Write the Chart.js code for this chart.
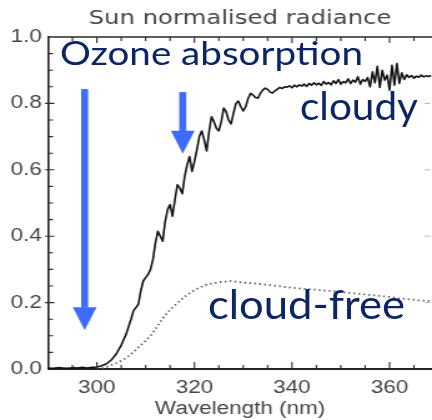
<!DOCTYPE html>
<html>
<head>
<meta charset="utf-8">
<title>Sun normalised radiance</title>
<script src="https://cdn.jsdelivr.net/npm/chart.js@4/dist/chart.umd.min.js"></script>
<style>
  html, body { margin: 0; padding: 0; background: #fff; overflow: hidden; }
  #wrap { position: relative; width: 432px; height: 420px; }
  /* the plot is laid out narrow and widened to the page width */
  #stretch { position: absolute; left: 0; top: 0; width: 346px; height: 420px;
             transform: scaleX(1.2486); transform-origin: 0 0; }
  #stretch canvas { display: block; }
  #notes { position: absolute; left: 0; top: 0; pointer-events: none; }
</style>
</head>
<body>
<div id="wrap">
  <div id="stretch"><canvas id="chart" width="346" height="420"></canvas></div>
  <svg id="notes" width="432" height="420" viewBox="0 0 432 420" xmlns="http://www.w3.org/2000/svg">
    <g font-family="Lato, 'Open Sans', sans-serif" fill="#0b2565">
      <text x="60" y="65" font-size="32" textLength="303" lengthAdjust="spacingAndGlyphs">Ozone absorption</text>
      <text x="300" y="120" font-size="38" textLength="118" lengthAdjust="spacingAndGlyphs">cloudy</text>
      <text x="208" y="319" font-size="40" textLength="197" lengthAdjust="spacingAndGlyphs">cloud-free</text>
    </g>
  </svg>
</div>
<script>
// Chart text
const titleText = 'Sun normalised radiance';
const xTitle = 'Wavelength (nm)';

// Axis ticks
const xTickValues = [300, 320, 340, 360];
const yTickValues = [0, 0.2, 0.4, 0.6, 0.8, 1.0];

// Cloudy scene: wavelength (nm) and normalised radiance
const cloudyNm = [
  290, 291, 292, 293, 294, 295, 296, 297, 298, 299,
  300, 301, 302, 303, 304, 305, 306, 307,
  307.5, 308, 308.5, 309, 309.5, 310, 310.5, 311, 311.5, 312,
  312.5, 313, 313.5, 314, 314.5, 315, 315.5, 316, 316.5, 317,
  317.5, 318, 318.5, 319, 319.5, 320, 320.5, 321, 321.5, 322,
  322.5, 323, 323.5, 324, 324.5, 325, 325.5, 326, 326.5, 327,
  327.5, 328, 328.5, 329, 329.5, 330, 330.5, 331, 331.5, 332,
  332.5, 333, 333.5, 334, 334.5, 335, 335.5, 336, 336.5, 337,
  337.5, 338, 338.5, 339, 339.5, 340, 340.5, 341, 341.5, 342,
  342.5, 343, 343.5, 344, 344.5, 345, 345.5, 346, 346.5, 347,
  347.5, 348, 348.5, 349, 349.5, 350, 350.5, 351, 351.5, 352,
  352.5, 353, 353.5, 354, 354.5, 355, 355.5, 356, 356.5, 357,
  357.5, 358, 358.5, 359, 359.5, 360, 360.5, 361, 361.5, 362,
  362.5, 363, 363.5, 364, 364.5, 365, 365.5, 366, 366.5, 367,
  367.5, 368, 368.5
];
const cloudyVal = [
  0.003, 0.002, 0.004, 0.003, 0.002, 0.004, 0.003, 0.005, 0.003, 0.005,
  0.006, 0.010, 0.016, 0.028, 0.046, 0.072, 0.105, 0.150,
  0.175, 0.185, 0.195, 0.235, 0.265, 0.275, 0.285, 0.300, 0.330, 0.380,
  0.415, 0.400, 0.385, 0.445, 0.480, 0.495, 0.460, 0.510, 0.555, 0.545,
  0.528, 0.580, 0.615, 0.640, 0.595, 0.625, 0.660, 0.700, 0.717, 0.690,
  0.657, 0.715, 0.760, 0.745, 0.725, 0.717, 0.745, 0.786, 0.775, 0.750,
  0.738, 0.770, 0.800, 0.807, 0.790, 0.777, 0.790, 0.815, 0.830, 0.825,
  0.818, 0.816, 0.830, 0.840, 0.846, 0.842, 0.834, 0.831, 0.838, 0.843,
  0.848, 0.845, 0.850, 0.849, 0.853, 0.847, 0.855, 0.850, 0.856, 0.852,
  0.858, 0.851, 0.860, 0.855, 0.862, 0.856, 0.861, 0.854, 0.866, 0.858,
  0.863, 0.856, 0.868, 0.860, 0.872, 0.858, 0.866, 0.862, 0.874, 0.860,
  0.870, 0.864, 0.880, 0.858, 0.872, 0.866, 0.878, 0.850, 0.895, 0.862,
  0.912, 0.848, 0.900, 0.870, 0.885, 0.840, 0.915, 0.855, 0.920, 0.860,
  0.892, 0.872, 0.886, 0.878, 0.884, 0.876, 0.882, 0.879, 0.885, 0.880,
  0.883, 0.881, 0.884
];

// Cloud-free scene
const clearNm = [
  300, 301, 302, 303, 304, 305, 306, 307, 308, 309,
  310, 311, 312, 313, 314, 315, 316, 317, 318, 319,
  320, 321, 322, 323, 324, 325, 326, 327, 328, 329,
  330, 332, 334, 336, 338, 340, 342, 344, 346, 348,
  350, 352, 354, 356, 358, 360, 362, 364, 366, 368, 368.7
];
const clearVal = [
  0.000, 0.002, 0.006, 0.012, 0.018, 0.025, 0.033, 0.045, 0.058, 0.072,
  0.085, 0.100, 0.120, 0.142, 0.162, 0.178, 0.192, 0.205, 0.218, 0.228,
  0.237, 0.245, 0.252, 0.256, 0.258, 0.262, 0.262, 0.265, 0.264, 0.262,
  0.260, 0.258, 0.255, 0.252, 0.248, 0.245, 0.242, 0.240, 0.237, 0.235,
  0.232, 0.229, 0.226, 0.223, 0.220, 0.217, 0.213, 0.210, 0.207, 0.205, 0.204
];

// Ozone absorption arrows: wavelength, start and tip radiance
const arrowNm = [297.5, 317.6];
const arrowFrom = [0.843, 0.834];
const arrowTo = [0.117, 0.648];

const pairs = (xs, ys) => xs.map((x, i) => ({ x: x, y: ys[i] }));

const axisFont = { family: "'Liberation Sans', Arial, sans-serif", size: 18, lineHeight: 1.2 };
const textGrey = '#454545';

// Inward tick marks, the top frame line and the arrows
const frameTicks = {
  id: 'frameTicks',
  afterDatasetsDraw(chart) {
    const { ctx, chartArea: a, scales: { x, y } } = chart;
    ctx.save();
    ctx.strokeStyle = '#2a2a2a';
    ctx.lineWidth = 1.5;
    ctx.beginPath();
    ctx.moveTo(a.left, a.top);
    ctx.lineTo(a.right, a.top);
    ctx.stroke();

    ctx.lineWidth = 1.1;
    ctx.beginPath();
    for (let v = 295; v <= x.max; v += 5) {
      const px = x.getPixelForValue(v);
      const major = v % 20 === 0;
      ctx.moveTo(px, a.bottom);
      ctx.lineTo(px, a.bottom - (major ? 7 : 4));
      ctx.moveTo(px, a.top);
      ctx.lineTo(px, a.top + (major ? 6 : 4));
    }
    for (let k = 1; k < 20; k++) {
      const v = k * 0.05;
      const py = y.getPixelForValue(v);
      const major = k % 4 === 0;
      ctx.moveTo(a.left - (major ? 2.4 : 0), py);
      ctx.lineTo(a.left + (major ? 5 : 4), py);
    }
    ctx.stroke();

    // faint right-hand frame ticks
    ctx.strokeStyle = '#b5b5b5';
    ctx.lineWidth = 1;
    ctx.beginPath();
    for (let k = 1; k < 5; k++) {
      const py = y.getPixelForValue(k * 0.2);
      ctx.moveTo(a.right - 6, py);
      ctx.lineTo(a.right - 1.5, py);
    }
    ctx.stroke();

    // blue arrows
    ctx.fillStyle = '#3e6bfb';
    const shaftW = 5.6, headW = 19, headL = 23;
    for (let i = 0; i < arrowNm.length; i++) {
      const px = x.getPixelForValue(arrowNm[i]);
      const y0 = y.getPixelForValue(arrowFrom[i]);
      const y1 = y.getPixelForValue(arrowTo[i]);
      ctx.fillRect(px - shaftW / 2, y0, shaftW, (y1 - headL) - y0 + 0.5);
      ctx.beginPath();
      ctx.moveTo(px - headW / 2, y1 - headL);
      ctx.lineTo(px + headW / 2, y1 - headL);
      ctx.lineTo(px, y1);
      ctx.closePath();
      ctx.fill();
    }
    ctx.restore();
  }
};

new Chart(document.getElementById('chart'), {
  type: 'line',
  data: {
    datasets: [
      {
        label: 'cloudy',
        data: pairs(cloudyNm, cloudyVal),
        borderColor: '#141414',
        borderWidth: 1.6,
        borderJoinStyle: 'round',
        pointRadius: 0,
        tension: 0
      },
      {
        label: 'cloud-free',
        data: pairs(clearNm, clearVal),
        borderColor: '#5e5e5e',
        borderWidth: 1.8,
        borderDash: [1.4, 2.6],
        pointRadius: 0,
        tension: 0
      }
    ]
  },
  options: {
    responsive: false,
    devicePixelRatio: 1,
    animation: false,
    events: [],
    layout: { padding: 0 },
    plugins: {
      legend: { display: false },
      tooltip: { enabled: false },
      title: {
        display: true,
        text: titleText,
        fullSize: false,
        color: textGrey,
        font: { family: "'DejaVu Sans', sans-serif", size: 19.5, weight: 'normal', lineHeight: 1.2 },
        padding: { top: 7.7, bottom: 5.9 }
      }
    },
    scales: {
      x: {
        type: 'linear',
        min: 290,
        max: 368.7,
        afterBuildTicks: s => { s.ticks = xTickValues.map(v => ({ value: v })); },
        afterFit: s => { s.height = 51; },
        grid: { display: false, drawTicks: false },
        border: { display: true, color: '#222', width: 2 },
        ticks: { color: textGrey, font: axisFont, padding: 8, maxRotation: 0, autoSkip: false,
                 callback: v => String(v) },
        title: { display: true, text: xTitle, color: textGrey, font: axisFont, padding: { top: 0, bottom: 0 } }
      },
      y: {
        type: 'linear',
        min: 0,
        max: 1,
        afterBuildTicks: s => { s.ticks = yTickValues.map(v => ({ value: v })); },
        afterFit: s => { s.width = 38.5; },
        grid: { display: false, drawTicks: false },
        border: { display: true, color: '#222', width: 1.6 },
        ticks: { color: textGrey, font: axisFont, padding: 5, autoSkip: false,
                 callback: v => Number(v).toFixed(1) }
      }
    }
  },
  plugins: [frameTicks]
});
</script>
</body>
</html>
